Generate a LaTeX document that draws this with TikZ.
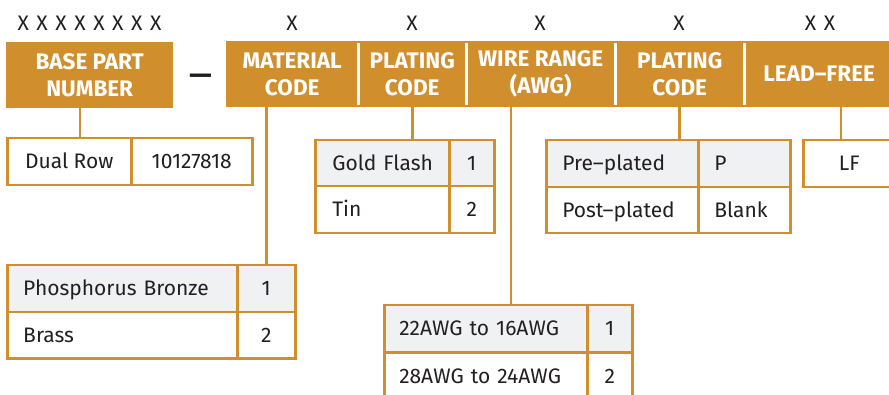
\documentclass[tikz,border=0pt]{standalone}
\usepackage{fontspec}
\setmainfont{Fira Sans}
\definecolor{org}{HTML}{D18E2C}
\definecolor{rowgray}{HTML}{F0F1F3}
\definecolor{ink}{HTML}{231F20}
\newcommand\xsp{\hspace{7.6pt}}
\begin{document}
\begin{tikzpicture}[x=1pt,y=-1pt,
  hdr/.style={fill=org, text=white, font=\bfseries\fontsize{22.5}{27}\selectfont, align=center,
    inner sep=0pt, anchor=north west, minimum height=66pt},
  cell/.style={draw=org, line width=2.5pt, fill=white, text=ink, font=\fontsize{21}{25}\selectfont,
    inner sep=0pt, anchor=north west, text height=14.5pt, text depth=0pt},
  gcell/.style={cell, fill=rowgray},
  xlab/.style={text=ink, font=\fontsize{21}{25}\selectfont, inner sep=0pt, text height=14.5pt, text depth=0pt},
  sep/.style={draw=white, line width=2.5pt},
  conn/.style={draw=org, line width=2.7pt}
]
\useasboundingbox (0,0) rectangle (889,395);
\clip (0,0) rectangle (889,395);
\fill[white] (0,0) rectangle (889,395);

% header bar
\node[hdr, minimum width=167pt] (base) at (6,42) {BASE PART\\NUMBER};
\node[text=ink, font=\bfseries\fontsize{28}{30}\selectfont, inner sep=0pt, anchor=base] (dash) at (200.5,85) {—};
\node[hdr, minimum width=132pt] (mat) at (226,41) {MATERIAL\\CODE};
\node[hdr, minimum width=108pt] (plt1) at (358,41) {PLATING\\CODE};
\node[hdr, minimum width=149pt] (wire) at (466,41) {WIRE RANGE\\(AWG)};
\node[hdr, minimum width=129pt] (plt2) at (615,41) {PLATING\\CODE};
\node[hdr, minimum width=150pt] (lead) at (744,41) {LEAD–FREE};
\draw[sep] ([yshift=-2pt]mat.north east) -- ([yshift=2pt]mat.south east);
\draw[sep] ([yshift=-2pt]plt1.north east) -- ([yshift=2pt]plt1.south east);
\draw[sep] ([yshift=-2pt]wire.north east) -- ([yshift=2pt]wire.south east);
\draw[sep] ([yshift=-2pt]plt2.north east) -- ([yshift=2pt]plt2.south east);

% X labels
\node[xlab] (xbase) at (89.5,23) {X\xsp X\xsp X\xsp X\xsp X\xsp X\xsp X\xsp X};
\node[xlab] (xmat) at (292,23) {X};
\node[xlab] (xplt1) at (412,23) {X};
\node[xlab] (xwire) at (540,23) {X};
\node[xlab] (xplt2) at (679,23) {X};
\node[xlab] (xlead) at (820,23) {X\xsp X};

% base part table
\node[cell, minimum width=124pt, minimum height=47pt] (dual) at (6,137) {Dual Row};
\node[cell, minimum width=121pt, minimum height=47pt] (num) at (130,137) {10127818};

% material table
\node[gcell, minimum width=230pt, minimum height=47pt, text width=198pt, align=left] (pb) at (6,264) {\mbox{Phosphorus Bronze}};
\node[gcell, minimum width=58pt, minimum height=47pt] (pb1) at (236,264) {1};
\node[cell, minimum width=230pt, minimum height=46pt, text width=198pt, align=left] (br) at (6,311) {\mbox{Brass}};
\node[cell, minimum width=58pt, minimum height=46pt] (br2) at (236,311) {2};

% plating table
\node[gcell, minimum width=134pt, minimum height=46pt, text width=100pt, align=left] (gold) at (314,139) {\mbox{Gold Flash}};
\node[gcell, minimum width=45pt, minimum height=46pt] (gold1) at (448,139) {1};
\node[cell, minimum width=134pt, minimum height=47pt, text width=100pt, align=left] (tin) at (314,185) {\mbox{Tin}};
\node[cell, minimum width=45pt, minimum height=47pt] (tin2) at (448,185) {2};

% wire range table
\node[gcell, minimum width=203pt, minimum height=47pt, text width=173pt, align=left] (w1) at (383,304) {\mbox{22AWG to 16AWG}};
\node[gcell, minimum width=45pt, minimum height=47pt] (w1n) at (586,304) {1};
\node[cell, minimum width=203pt, minimum height=47pt, text width=173pt, align=left] (w2) at (383,351) {\mbox{28AWG to 24AWG}};
\node[cell, minimum width=45pt, minimum height=47pt] (w2n) at (586,351) {2};

% plating 2 table
\node[gcell, minimum width=152pt, minimum height=47pt, text width=120pt, align=left] (pre) at (545,139) {\mbox{Pre–plated}};
\node[gcell, minimum width=92pt, minimum height=47pt, text width=60pt, align=left] (preP) at (697,139) {\mbox{P}};
\node[cell, minimum width=152pt, minimum height=46pt, text width=120pt, align=left] (post) at (545,186) {\mbox{Post–plated}};
\node[cell, minimum width=92pt, minimum height=46pt, text width=60pt, align=left] (postB) at (697,186) {\mbox{Blank}};

% lead free
\node[cell, minimum width=92pt, minimum height=47pt] (lf) at (802,139) {LF};

% connectors
\coordinate (cb) at (80,0);
\coordinate (cw) at (511,0);
\coordinate (cl) at (841,0);
\draw[conn] (base.south -| cb) -- (dual.north -| cb);
\draw[conn] (mat.south -| pb1.north) -- (pb1.north);
\draw[conn] (plt1.south) -- (plt1.south |- gold.north);
\draw[conn] (wire.south -| cw) -- (w1.north -| cw);
\draw[conn] (plt2.south) -- (plt2.south |- pre.north);
\draw[conn] (lead.south -| cl) -- (lf.north -| cl);
\end{tikzpicture}
\end{document}
